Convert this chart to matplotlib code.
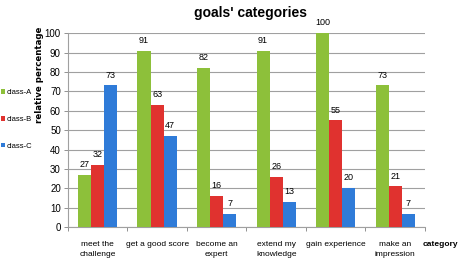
import matplotlib
matplotlib.use("Agg")
import matplotlib.pyplot as plt
import numpy as np

categories = ["meet the\nchallenge", "get a good score", "become an\nexpert",
              "extend my\nknowledge", "gain experience", "make an\nimpression"]
class_a = [27, 91, 82, 91, 100, 73]
class_b = [32, 63, 16, 26, 55, 21]
class_c = [73, 47, 7, 13, 20, 7]
series_names = ["class-A", "class-B", "class-C"]
colors = ["#8DC03A", "#E0322F", "#2F7BD8"]

FONT = "Liberation Sans"

fig = plt.figure(figsize=(4.58, 2.65), dpi=100)
ax = fig.add_axes([0.148, 0.143, 0.78, 0.732])

x = np.arange(len(categories))
w = 0.22
handles = []
for i, (vals, name, c) in enumerate(zip([class_a, class_b, class_c], series_names, colors)):
    pos = x + (i - 1) * w
    bars = ax.bar(pos, vals, width=w, color=c, label=name, zorder=3)
    handles.append(bars)
    for p, v in zip(pos, vals):
        ax.text(p, v + 3, str(v), ha="center", va="bottom", fontsize=6.5,
                family=FONT, zorder=4)

ax.set_xlim(-0.5, len(categories) - 0.5)
ax.set_ylim(0, 100)
ax.set_yticks(range(0, 101, 10))
ax.tick_params(axis="y", labelsize=7, length=3, width=0.6, colors="#808080",
               labelcolor="black", pad=2)
for lab in ax.get_yticklabels():
    lab.set_family(FONT)
ax.set_xticks(x)
ax.set_xticklabels(categories, fontsize=6, family=FONT, linespacing=1.6)
ax.tick_params(axis="x", length=0, pad=10)
ax.set_xticks(np.arange(-0.5, len(categories)), minor=True)
ax.tick_params(axis="x", which="minor", length=3, width=0.6, colors="#808080")
ax.yaxis.grid(True, color="#A0A0A0", linewidth=0.8, zorder=0)
for s in ["top", "right"]:
    ax.spines[s].set_visible(False)
for s in ["left", "bottom"]:
    ax.spines[s].set_color("#A0A0A0")
    ax.spines[s].set_linewidth(0.8)

fig.text(0.546, 0.952, "goals' categories", ha="center", va="center", fontsize=10,
         fontweight="bold", family=FONT)
fig.text(0.086, 0.717, "relative percentage", rotation=90, ha="center", va="center",
         fontsize=6.2, fontweight="bold")
fig.text(0.962, 0.077, "category", ha="center", va="center", fontsize=6,
         fontweight="bold", family=FONT)

fig.legend(handles=handles, labels=series_names, loc="upper left",
           bbox_to_anchor=(-0.005, 0.675), frameon=False,
           handlelength=0.5, handleheight=0.5, labelspacing=2.6, handletextpad=0.3,
           borderaxespad=0.0, prop={"family": FONT, "size": 5.5})

fig.savefig("out.png", dpi=100)
